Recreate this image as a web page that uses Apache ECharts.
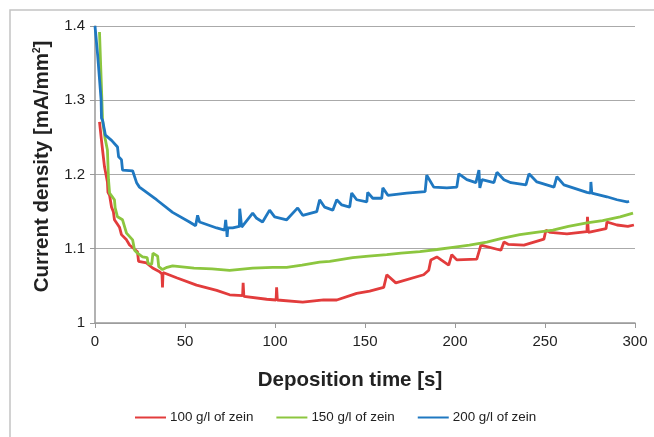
<!DOCTYPE html>
<html>
<head>
<meta charset="utf-8">
<script src="https://cdn.jsdelivr.net/npm/echarts@6/dist/echarts.min.js"></script>
<style>
  html, body { margin: 0; padding: 0; background: #fff; }
  #main { width: 654px; height: 437px; }
</style>
</head>
<body>
<div id="main"></div>
<script>
// x ticks and y ticks
var xTicks = [0, 50, 100, 150, 200, 250, 300];
var yTicks = [1, 1.1, 1.2, 1.3, 1.4];
var seriesNames = ['100 g/l of zein', '150 g/l of zein', '200 g/l of zein'];

// 100 g/l of zein  [time s, current density]
var zein100 = [
  [2.5, 1.271], [3.6, 1.246], [4.2, 1.233], [5.3, 1.210], [6.9, 1.190], [7.2, 1.176],
  [8.1, 1.172], [9.2, 1.156], [10.2, 1.150], [10.8, 1.139], [12.5, 1.133], [13.6, 1.129],
  [14.7, 1.119], [17.5, 1.112], [19.2, 1.105], [23.6, 1.096], [24.2, 1.083], [28.6, 1.081],
  [32, 1.074], [35.9, 1.069], [37.2, 1.066], [37.5, 1.048], [37.8, 1.068], [38.6, 1.069],
  [45.3, 1.061], [56.4, 1.051], [67.6, 1.044], [74.8, 1.038], [82, 1.037], [82.3, 1.054],
  [82.7, 1.036], [95.4, 1.032], [100.6, 1.031], [100.9, 1.048], [101.3, 1.031], [115.4, 1.028],
  [127, 1.031], [134.3, 1.031], [145.4, 1.040], [152.6, 1.043], [160.4, 1.048], [162.1, 1.065],
  [167.1, 1.054], [182.6, 1.065], [185.4, 1.071], [186.6, 1.085], [189.9, 1.089], [196.5, 1.078],
  [198.2, 1.092], [201, 1.085], [212.1, 1.086], [214.4, 1.105], [225.5, 1.098], [227.2, 1.109],
  [229.5, 1.106], [238.3, 1.105], [249.4, 1.113], [250.5, 1.125], [253, 1.122], [262.2, 1.120],
  [273.3, 1.123], [273.6, 1.143], [274.1, 1.122], [283.9, 1.127], [284.4, 1.136], [290, 1.132],
  [296, 1.130], [299.4, 1.132]
];

// 150 g/l of zein
var zein150 = [
  [2.5, 1.392], [3.4, 1.330], [4.2, 1.273], [5.5, 1.250], [6.9, 1.233], [7.5, 1.193],
  [8.1, 1.175], [10.8, 1.166], [11.2, 1.155], [12.5, 1.143], [15.3, 1.139], [17.5, 1.121],
  [20.9, 1.112], [22, 1.098], [23.6, 1.094], [26.4, 1.089], [29, 1.088], [29.5, 1.080],
  [31.5, 1.079], [32.2, 1.094], [34.8, 1.090], [35.4, 1.076], [37.5, 1.072], [40, 1.075],
  [43.1, 1.077], [55, 1.074], [65, 1.073], [74.8, 1.071], [87.6, 1.074], [98.7, 1.075],
  [106.5, 1.075], [115, 1.078], [124.8, 1.082], [130.4, 1.083], [143.2, 1.088], [152, 1.090],
  [162.1, 1.092], [170, 1.094], [180.5, 1.096], [190, 1.099], [198.8, 1.102], [208, 1.105],
  [217.7, 1.109], [226, 1.114], [236, 1.119], [245, 1.122], [254.4, 1.125], [263, 1.130],
  [273.3, 1.135], [282, 1.138], [291.7, 1.143], [298.9, 1.148]
];

// 200 g/l of zein
var zein200 = [
  [0, 1.400], [1.5, 1.360], [3.4, 1.300], [3.6, 1.276], [4.2, 1.273], [5.8, 1.253],
  [9.2, 1.246], [12.5, 1.237], [13.1, 1.224], [14.7, 1.220], [15.3, 1.206], [20.9, 1.205],
  [23.1, 1.189], [24.7, 1.183], [34.2, 1.166], [43.1, 1.149], [52.5, 1.136], [55.9, 1.131],
  [57, 1.145], [58.1, 1.136], [67.6, 1.128], [72, 1.125], [72.6, 1.139], [73.1, 1.126],
  [73.4, 1.116], [73.8, 1.128], [76.5, 1.128], [80.2, 1.130], [80.4, 1.154], [81.5, 1.129],
  [87.6, 1.148], [89.8, 1.141], [93.1, 1.136], [97, 1.152], [99.8, 1.143], [106.5, 1.139],
  [112.6, 1.155], [115.4, 1.145], [123.2, 1.150], [124.8, 1.166], [127.6, 1.156], [132.1, 1.152],
  [134.3, 1.166], [137.1, 1.159], [141.5, 1.156], [142.6, 1.175], [145.4, 1.166], [151, 1.163],
  [151.5, 1.176], [154.3, 1.168], [159.3, 1.168], [159.9, 1.182], [162.7, 1.172], [173.2, 1.175],
  [183.4, 1.177], [184.3, 1.199], [188.2, 1.183], [195.5, 1.182], [201, 1.183], [202.1, 1.201],
  [206.6, 1.193], [211.6, 1.189], [213.3, 1.206], [213.8, 1.182], [215, 1.193], [221.6, 1.189],
  [223.3, 1.203], [227.2, 1.193], [231.1, 1.189], [239.4, 1.186], [241.1, 1.201], [245.5, 1.190],
  [255, 1.183], [256.6, 1.197], [260.5, 1.186], [273.3, 1.176], [275.3, 1.175], [275.5, 1.190],
  [276, 1.175], [284.4, 1.170], [290, 1.166], [295.6, 1.163], [296.7, 1.164]
];

var colors = ['#e23c3c', '#8cc63f', '#1f78c1'];
var font = '"Liberation Sans", Arial, sans-serif';

var chart = echarts.init(document.getElementById('main'));

function lineSeries(name, data, color) {
  return {
    name: name,
    type: 'line',
    data: data,
    showSymbol: false,
    symbol: 'none',
    animation: false,
    lineStyle: { color: color, width: 2.8 },
    itemStyle: { color: color }
  };
}

chart.setOption({
  backgroundColor: '#fff',
  animation: false,
  textStyle: { fontFamily: font },
  graphic: [{
    type: 'rect',
    shape: { x: 10, y: 10, width: 700, height: 500 },
    style: { fill: 'none', stroke: '#c4c4c4', lineWidth: 1.5 },
    silent: true
  }],
  grid: { left: 95, right: 19, top: 26, bottom: 114 },
  legend: {
    bottom: 8,
    left: 130,
    itemWidth: 31,
    itemHeight: 2,
    itemGap: 23,
    icon: 'rect',
    textStyle: { fontSize: 13.4, color: '#222', fontFamily: font, padding: [0, 0, 0, -1] },
    data: seriesNames
  },
  xAxis: {
    type: 'value',
    min: xTicks[0],
    max: xTicks[xTicks.length - 1],
    interval: 50,
    name: 'Deposition time [s]',
    nameLocation: 'middle',
    nameGap: 47,
    nameTextStyle: { fontSize: 20.5, fontWeight: 'bold', color: '#222', fontFamily: font, padding: [0, 30, 0, 0] },
    axisLine: { lineStyle: { color: '#999', width: 1.5 } },
    axisTick: { show: true, length: 5, lineStyle: { color: '#999' } },
    axisLabel: { fontSize: 15, color: '#222', margin: 11, fontFamily: font },
    splitLine: { show: false }
  },
  yAxis: {
    type: 'value',
    min: yTicks[0],
    max: yTicks[yTicks.length - 1],
    interval: 0.1,
    name: 'Current density [mA/mm{sup|2}]',
    nameLocation: 'middle',
    nameGap: 39,
    nameTextStyle: {
      fontSize: 20.5, fontWeight: 'bold', color: '#222', fontFamily: font, padding: [0, 0, 0, 16],
      rich: { sup: { fontSize: 10, fontWeight: 'bold', color: '#222', verticalAlign: 'top', padding: [0, 0, 9, 0] } }
    },
    axisLine: { show: true, lineStyle: { color: '#999', width: 1.5 } },
    axisTick: { show: true, length: 5, lineStyle: { color: '#999' } },
    axisLabel: { fontSize: 15, color: '#222', margin: 10, fontFamily: font },
    splitLine: { lineStyle: { color: '#aaa', width: 1.2 } }
  },
  series: [
    lineSeries(seriesNames[0], zein100, colors[0]),
    lineSeries(seriesNames[1], zein150, colors[1]),
    lineSeries(seriesNames[2], zein200, colors[2])
  ]
});
</script>
</body>
</html>
